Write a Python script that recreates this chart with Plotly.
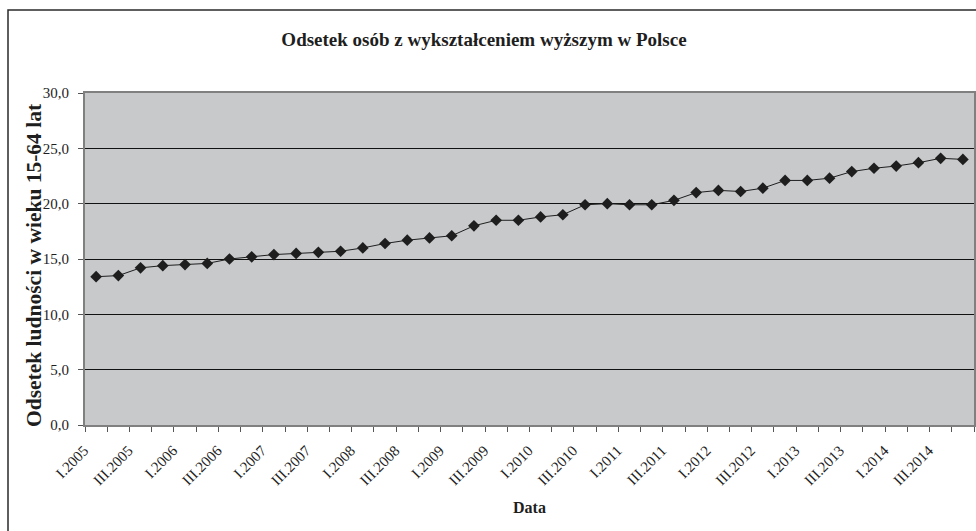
import plotly.graph_objects as go

years = list(range(2005, 2015))
quarters = ["I", "II", "III", "IV"]
categories = [f"{q}.{y}" for y in years for q in quarters]
values = [13.4, 13.5, 14.2, 14.4, 14.5, 14.6, 15.0, 15.2, 15.4, 15.5,
          15.6, 15.7, 16.0, 16.4, 16.7, 16.9, 17.1, 18.0, 18.5, 18.5,
          18.8, 19.0, 19.9, 20.0, 19.9, 19.9, 20.3, 21.0, 21.2, 21.1,
          21.4, 22.1, 22.1, 22.3, 22.9, 23.2, 23.4, 23.7, 24.1, 24.0]
tick_text = [c if c.split(".")[0] in ("I", "III") else "" for c in categories]
y_ticks = [0, 5, 10, 15, 20, 25, 30]

title_text = "Odsetek osób z wykształceniem wyższym w Polsce"
y_title = "Odsetek ludności w wieku 15-64 lat"
x_title = "Data"

W, H = 976, 531
L, R, T, B = 85, 974, 93, 425

FONT = "Liberation Serif"

fig = go.Figure()
fig.add_trace(go.Scatter(
    x=categories, y=values, mode="lines+markers",
    line=dict(color="#1e1e1e", width=1),
    marker=dict(symbol="diamond", size=9, color="#1e1e1e"),
    showlegend=False,
))

def px_x(p):
    return (p - L) / (R - L)

def px_y(p):
    return (B - p) / (B - T)

fig.update_layout(
    width=W, height=H,
    margin=dict(l=L, r=W - R, t=T, b=H - B, pad=0, autoexpand=False),
    paper_bgcolor="white",
    plot_bgcolor="#c8c9cb",
    separators=", ",
    font=dict(family=FONT, color="#1e1e1e", size=15),
    title=dict(text=f"<b>{title_text}</b>", x=484 / W, xref="container",
               xanchor="center", y=1 - 39 / H, yref="container", yanchor="middle",
               font=dict(family=FONT, size=19, color="#1e1e1e")),
    shapes=[dict(type="rect", xref="paper", yref="paper",
                 x0=px_x(8), x1=px_x(990), y0=px_y(545), y1=px_y(10),
                 line=dict(color="#2a2a2a", width=1.5), layer="below")],
    annotations=[dict(text=f"<b>{y_title}</b>", textangle=-90,
                      xref="paper", yref="paper", x=px_x(34), y=px_y(265),
                      xanchor="center", yanchor="middle", showarrow=False,
                      font=dict(family=FONT, size=21.5, color="#1e1e1e"))],
)

fig.update_xaxes(
    type="category", automargin=False, range=[-0.5, len(categories) - 0.5],
    tickmode="array", tickvals=categories, ticktext=tick_text,
    tickangle=-45, tickson="boundaries",
    ticks="outside", ticklen=5, tickcolor="#555555", tickwidth=1,
    ticklabelstandoff=9, ticklabelshift=-12,
    showline=True, linecolor="#808080", linewidth=2, mirror=True,
    showgrid=False,
    tickfont=dict(family=FONT, size=15, color="#1e1e1e"),
    title=dict(text=f"<b>{x_title}</b>", standoff=14,
               font=dict(family=FONT, size=16, color="#1e1e1e")),
)
fig.update_yaxes(
    range=[0, 30], tickmode="array", tickvals=y_ticks, automargin=False,
    tickformat=".1f",
    ticks="outside", ticklen=5, tickcolor="#555555", tickwidth=1,
    showline=True, linecolor="#808080", linewidth=2, mirror=True,
    showgrid=True, gridcolor="#111111", gridwidth=1,
    zeroline=False,
    ticklabelstandoff=6,
    tickfont=dict(family=FONT, size=15, color="#1e1e1e"),
)

fig.write_html(
    "out.html",
    config={"displayModeBar": False},
    post_script="document.body.style.margin='0';document.body.style.overflow='hidden';",
)
